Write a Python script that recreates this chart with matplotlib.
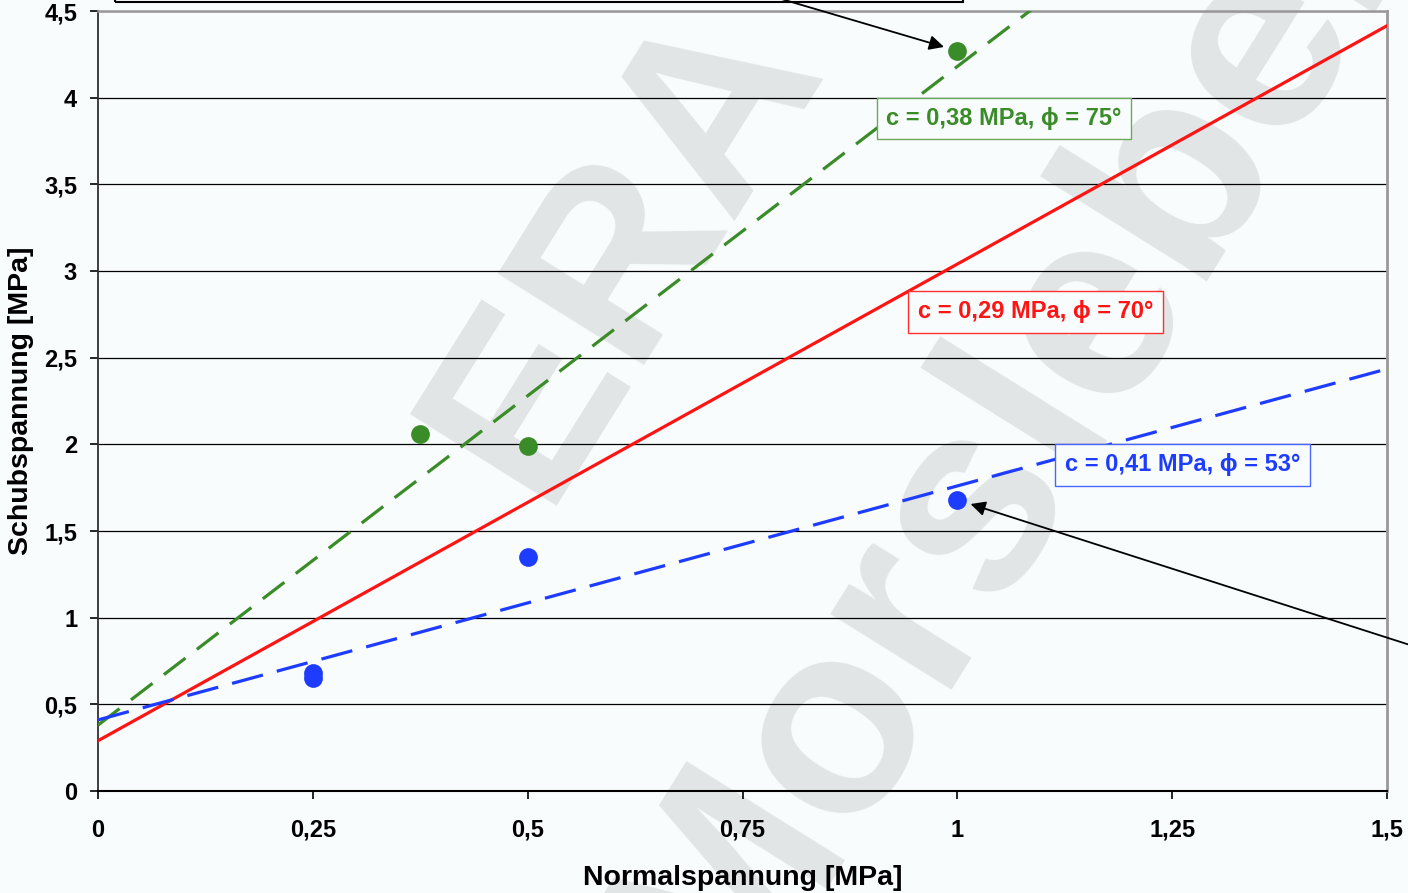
import matplotlib.pyplot as plt
from matplotlib.patches import Rectangle
import numpy as np

# Versuchspunkte
green_x = [0.375, 0.5, 1.0]
green_y = [2.06, 1.99, 4.27]
blue_x = [0.25, 0.25, 0.5, 1.0]
blue_y = [0.68, 0.65, 1.35, 1.68]

# Ausgleichsgeraden (Kohaesion c, Steigung aus dem Bild)
fit_c = [0.38, 0.29, 0.41]
fit_slope = [3.80, 2.75, 1.35]
fit_labels = ['c = 0,38 MPa, ϕ = 75°', 'c = 0,29 MPa, ϕ = 70°', 'c = 0,41 MPa, ϕ = 53°']
# linke Kante / Mitte der Beschriftungen in Datenkoordinaten
label_x = [0.917, 0.954, 1.125]
label_y = [3.880, 2.764, 1.881]

x_ticks = [0, 0.25, 0.5, 0.75, 1.0, 1.25, 1.5]
x_tick_labels = ['0', '0,25', '0,5', '0,75', '1', '1,25', '1,5']
y_ticks = [0, 0.5, 1.0, 1.5, 2.0, 2.5, 3.0, 3.5, 4.0, 4.5]
y_tick_labels = ['0', '0,5', '1', '1,5', '2', '2,5', '3', '3,5', '4', '4,5']

GREEN = '#3a8c28'
RED = '#ff1414'
BLUE = '#1e3cff'
BG = '#f8fcfc'
W, H = 1408, 893

plt.rcParams['font.family'] = ['Liberation Sans', 'DejaVu Sans']
plt.rcParams['font.weight'] = 'bold'

fig = plt.figure(figsize=(W / 100, H / 100), dpi=100, facecolor=BG)
ax = fig.add_axes([98 / W, (H - 791) / H, (1387 - 98) / W, (791 - 11) / H])
ax.set_facecolor('none')


def px(x, y):
    # Pixel (y nach unten) -> figure fraction
    return x / W, 1 - y / H


# Wasserzeichen
wm = dict(color='#e1e5e5', fontweight='bold', rotation=58, rotation_mode='anchor',
          va='baseline', zorder=-1)
fig.text(*px(680, 282), 'ERA', fontsize=180, ha='center', **wm)
fig.text(*px(727, 1020), 'Morsleben', fontsize=195, ha='left', **wm)

xs = np.array([0, 1.5])
colors = [GREEN, RED, BLUE]
styles = [(8.5, 4.5), None, (10, 4.5)]
for c, m, col, ds in zip(fit_c, fit_slope, colors, styles):
    line, = ax.plot(xs, c + m * xs, color=col, lw=2.3, zorder=3)
    if ds is not None:
        line.set_dashes(ds)

ax.plot(green_x, green_y, 'o', color=GREEN, ms=13.5, mec='none', zorder=4)
ax.plot(blue_x, blue_y, 'o', color=BLUE, ms=13.5, mec='none', zorder=4)

edge_cols = ['#6aaa5a', '#ff3030', '#4a66ff']
for lx, ly, txt, col, ec in zip(label_x, label_y, fit_labels, colors, edge_cols):
    ax.text(lx, ly, txt, color=col, fontsize=17, fontweight='bold', ha='left', va='center',
            zorder=5, bbox=dict(boxstyle='square,pad=0.4', fc=BG, ec=ec, lw=1.0))

# Pfeile
arrow = dict(arrowstyle='-|>', color='black', lw=1.3, shrinkA=0, shrinkB=10, mutation_scale=22)
ax.annotate('', xy=(green_x[2], green_y[2]), xytext=px(778, -2), textcoords='figure fraction',
            arrowprops=arrow, annotation_clip=False)
ax.annotate('', xy=(blue_x[3], blue_y[3]), xytext=px(1410, 645), textcoords='figure fraction',
            arrowprops=arrow, annotation_clip=False)

# Rahmen oben (abgeschnitten)
fig.add_artist(Rectangle(px(115, 1.5), (963 - 115) / W, 0.1, transform=fig.transFigure,
                         fill=False, ec='black', lw=1.5, clip_on=False))

ax.set_xlim(0, 1.5)
ax.set_ylim(0, 4.5)
ax.set_xticks(x_ticks, x_tick_labels)
ax.set_yticks(y_ticks, y_tick_labels)
ax.tick_params(axis='x', direction='out', length=6, width=1.2, pad=14, labelsize=17)
ax.tick_params(axis='y', direction='out', length=6, width=1.2, pad=9, labelsize=17)
ax.yaxis.grid(True, color='black', lw=0.9)
ax.set_axisbelow(True)

ax.spines['left'].set_color('#303030')
ax.spines['left'].set_linewidth(1.3)
ax.spines['bottom'].set_color('black')
ax.spines['bottom'].set_linewidth(1.5)
ax.spines['right'].set_color('#999999')
ax.spines['right'].set_linewidth(2)
ax.spines['top'].set_color('#999999')
ax.spines['top'].set_linewidth(1.8)

ax.set_xlabel('Normalspannung [MPa]', fontsize=20.5, fontweight='bold')
ax.set_ylabel('Schubspannung [MPa]', fontsize=20.5, fontweight='bold')
ax.xaxis.set_label_coords(0.5, -0.095)
ax.yaxis.set_label_coords(-0.050, 0.5)

plt.savefig('out.png', dpi=100, facecolor=BG)
